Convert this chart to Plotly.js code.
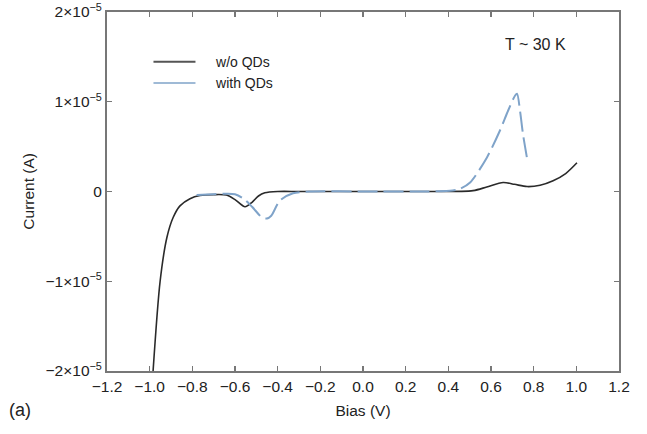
<!DOCTYPE html>
<html><head><meta charset="utf-8">
<script src="https://cdn.plot.ly/plotly-3.0.1.min.js"></script>
<style>body{margin:0}#c{width:647px;height:434px}</style>
</head><body><div id="c"></div>
<script>
const woBias = [-0.984,-0.951,-0.919,-0.89,-0.858,-0.811,-0.764,-0.70,-0.64,-0.60,-0.553,-0.52,-0.49,-0.46,-0.40,-0.3,0.0,0.3,0.516,0.58,0.657,0.71,0.769,0.83,0.891,0.95,1.003];
const woCur = [-2.0e-5,-1.0e-5,-0.51e-5,-0.29e-5,-0.16e-5,-0.08e-5,-0.045e-5,-0.035e-5,-0.04e-5,-0.09e-5,-0.17e-5,-0.12e-5,-0.05e-5,-0.015e-5,0,0,0,0,0.01e-5,0.05e-5,0.1e-5,0.08e-5,0.055e-5,0.07e-5,0.12e-5,0.2e-5,0.32e-5];
const qdBias = [-0.78,-0.70,-0.60,-0.56,-0.52,-0.473,-0.45,-0.43,-0.389,-0.328,-0.25,0.0,0.3,0.42,0.455,0.502,0.581,0.642,0.68,0.713,0.722,0.736,0.75,0.769];
const qdCur = [-0.04e-5,-0.03e-5,-0.03e-5,-0.08e-5,-0.17e-5,-0.29e-5,-0.3e-5,-0.27e-5,-0.1e-5,-0.02e-5,0,0,0,0.01e-5,0.03e-5,0.1e-5,0.38e-5,0.68e-5,0.9e-5,1.07e-5,1.09e-5,0.9e-5,0.64e-5,0.37e-5];
const seriesNames = ["w/o QDs","with QDs"];
const xTicks = [-1.2,-1.0,-0.8,-0.6,-0.4,-0.2,0.0,0.2,0.4,0.6,0.8,1.0,1.2];
const xTickText = ["−1.2","−1.0","−0.8","−0.6","−0.4","−0.2","0.0","0.2","0.4","0.6","0.8","1.0","1.2"];
const yTicks = [2e-5,1e-5,0,-1e-5,-2e-5];
const yTickText = ["2×10<sup>−5</sup>","1×10<sup>−5</sup>","0","−1×10<sup>−5</sup>","−2×10<sup>−5</sup>"];

const fam = "Liberation Sans, Arial, sans-serif";
const font = {family:fam, size:15.5, color:"#222"};
const blackC = "#2a2a2a", blueC = "#7fa3c9";
const pad = "&nbsp;&nbsp;&nbsp;&nbsp;";
const data = [
 {x:woBias, y:woCur, mode:"lines", showlegend:false, line:{color:blackC, width:1.6, shape:"spline", smoothing:0.8}},
 {x:qdBias, y:qdCur, mode:"lines", showlegend:false, line:{color:blueC, width:2, shape:"spline", smoothing:0.8, dash:"20px,6px"}},
 {x:[null], y:[null], mode:"lines", name:pad+seriesNames[0], line:{color:"#555", width:2}},
 {x:[null], y:[null], mode:"lines", name:pad+seriesNames[1], line:{color:blueC, width:1.5}}
];
const axisCommon = {showline:true, linecolor:"#777", linewidth:2, mirror:"ticks", ticks:"inside", ticklen:5, tickwidth:1.2, tickcolor:"#777", showgrid:false, zeroline:false, tickfont:font};
const layout = {
 width:647, height:434,
 margin:{l:107, r:28, t:12, b:63},
 paper_bgcolor:"#fff", plot_bgcolor:"#fff",
 font:font,
 showlegend:true,
 legend:{x:0.081, y:0.905, xanchor:"left", yanchor:"top", itemwidth:42, tracegroupgap:0, bgcolor:"rgba(0,0,0,0)", font:{family:fam,size:14,color:"#222"}},
 xaxis:Object.assign({}, axisCommon, {range:[-1.2,1.2], tickvals:xTicks, ticktext:xTickText, title:{text:"Bias (V)", font:font, standoff:12}}),
 yaxis:Object.assign({}, axisCommon, {range:[-2e-5,2e-5], tickvals:yTicks, ticktext:yTickText}),
 annotations:[
  {text:"Current (A)", xref:"paper", yref:"paper", x:-0.154, y:0.5, xanchor:"center", yanchor:"middle", textangle:-90, showarrow:false, font:font},
  {text:"T ~ 30 K", xref:"paper", yref:"paper", x:0.836, y:0.91, xanchor:"center", yanchor:"middle", showarrow:false, font:{family:fam,size:16,color:"#222"}},
  {text:"(a)", xref:"paper", yref:"paper", x:-0.195, y:-0.109, xanchor:"left", yanchor:"middle", showarrow:false, font:{family:fam,size:18,color:"#222"}}
 ]
};
Plotly.newPlot("c", data, layout, {displayModeBar:false, staticPlot:true});
</script></body></html>
